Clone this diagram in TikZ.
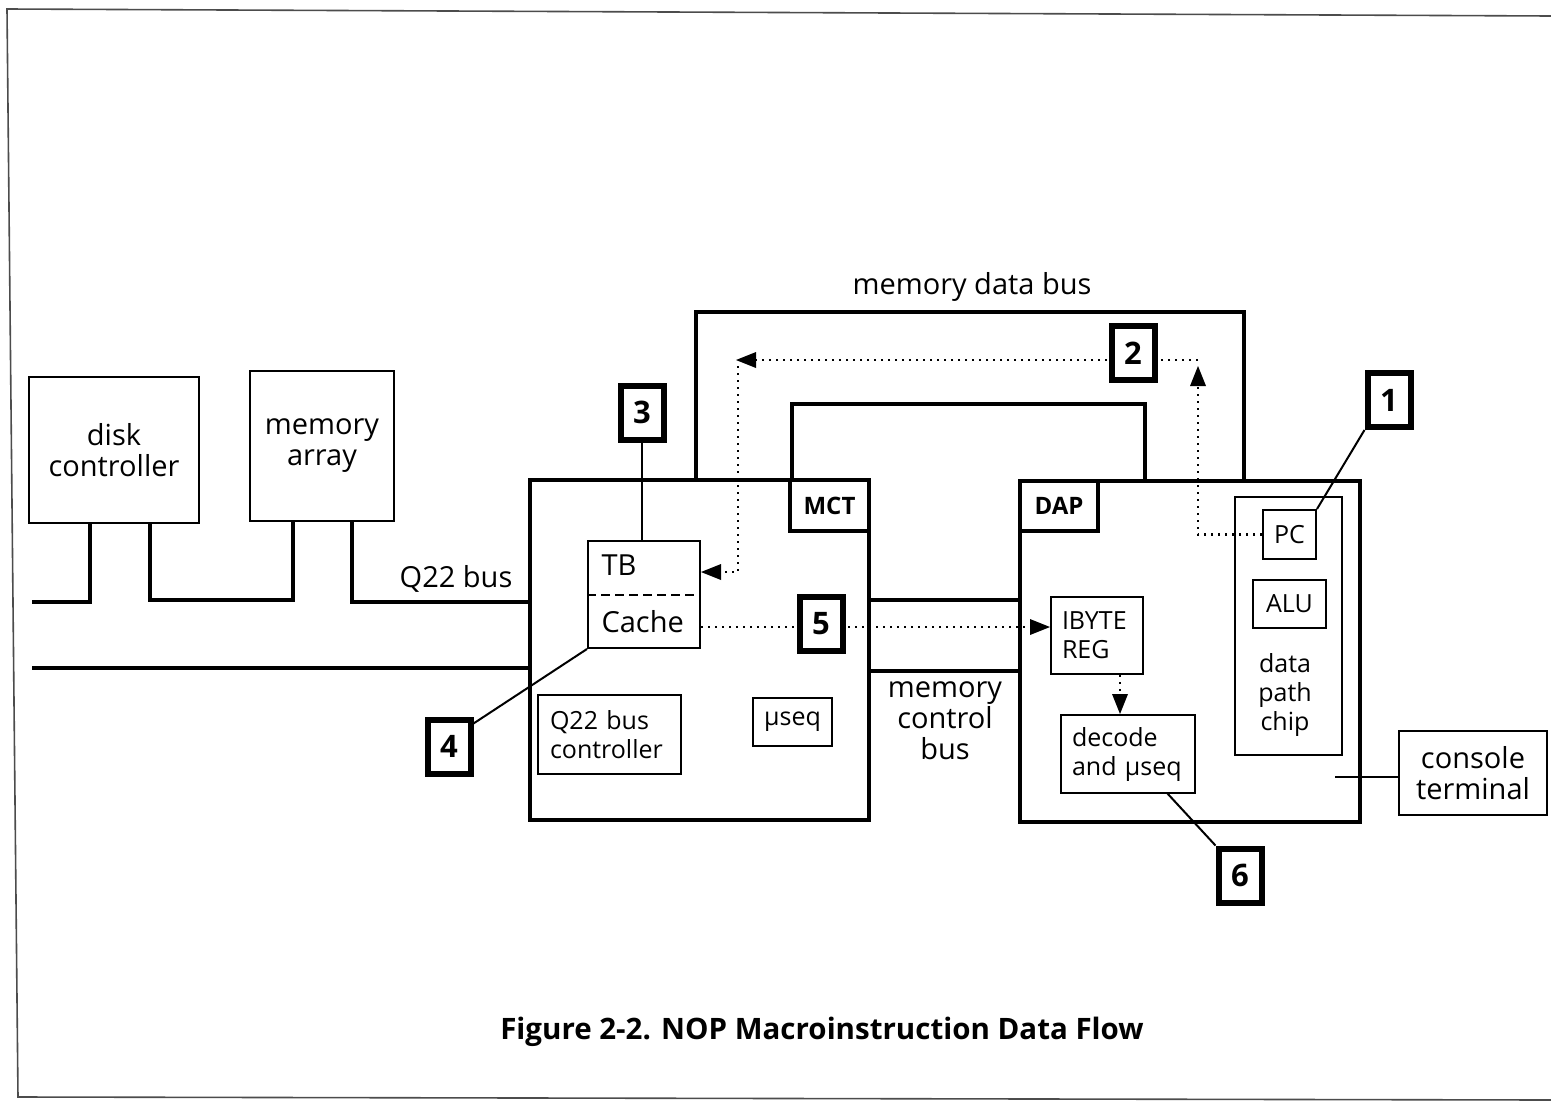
\documentclass[tikz,border=0pt]{standalone}
\usepackage{fontspec}
\setmainfont{Open Sans}
\usetikzlibrary{arrows.meta,calc}
\begin{document}
\begin{tikzpicture}[x=1pt,y=-1pt,
 lbl/.style={font=\fontsize{29}{31}\selectfont},
 sml/.style={font=\fontsize{25}{29}\selectfont},
 box/.style={draw, line width=2pt, inner sep=0pt, align=center},
 bigbox/.style={draw, line width=4pt, inner sep=0pt},
 labbox/.style={draw, line width=4pt, inner sep=0pt, fill=white, font=\bfseries\fontsize{24}{28}\selectfont},
 numbox/.style={draw, line width=6pt, inner sep=0pt, minimum width=43pt, minimum height=54pt, fill=white, font=\bfseries\fontsize{31}{34}\selectfont},
 bus/.style={line width=4pt},
 thinline/.style={line width=2pt},
 dotline/.style={line width=2.4pt, dash pattern=on 2pt off 5pt},
 arr/.style={-{Triangle[length=20pt,width=16pt,line width=0pt]}},
 frameline/.style={line width=1.6pt, draw=black!70}
]
\useasboundingbox (0,0) rectangle (1551,1103);
\fill[white] (0,0) rectangle (1551,1103);
% frame
\draw[frameline] (1551,16) -- (7,9) -- (18,1097) -- (1551,1100);

% left boxes
\node[box, lbl, minimum width=170pt, minimum height=146pt] (disk) at (114,450) {disk\\controller};
\node[box, lbl, minimum width=144pt, minimum height=150pt] (mem) at (322,446) {memory\\array};

% main chips
\node[bigbox, minimum width=339pt, minimum height=340pt] (mct) at (699.5,650) {};
\node[bigbox, minimum width=340pt, minimum height=341pt] (dap) at (1190,651.5) {};

% Q22 bus
\coordinate (qa) at (32,602);
\coordinate (qb) at (90,602);
\coordinate (qc) at (150,600);
\coordinate (qd) at (293,600);
\coordinate (qe) at (352,602);
\coordinate (qf) at (32,668);
\draw[bus] (qa) -- (qb) -- (qb |- disk.south);
\draw[bus] (qc |- disk.south) -- (qc) -- (qd) -- (qd |- mem.south);
\draw[bus] (qe |- mem.south) -- (qe) -- (qe -| mct.west);
\draw[bus] (qf) -- (qf -| mct.west);
\node[lbl] (q22) at (456,579) {Q22 bus};

% memory data bus / memory control bus
\coordinate (mdbL) at (696,312);
\coordinate (mdbR) at (1244,312);
\draw[bus] (mdbL |- mct.north) -- (mdbL) -- (mdbR) -- (mdbR |- dap.north);
\coordinate (mcbL) at (792,404);
\coordinate (mcbR) at (1145,404);
\draw[bus] (mcbL |- mct.north) -- (mcbL) -- (mcbR) -- (mcbR |- dap.north);
\node[lbl] (mdb) at (972,287) {memory data bus};
\coordinate (hb1) at (869,600);
\coordinate (hb2) at (869,671);
\draw[bus] (hb1) -- (hb1 -| dap.west);
\draw[bus] (hb2) -- (hb2 -| dap.west);
\node[lbl, align=center, font=\fontsize{29}{31}\selectfont] (mcb) at (945,721) {memory\\control\\bus};

% label boxes
\node[labbox, minimum width=79pt, minimum height=51pt] (mctl) at (829.5,505.5) {MCT};
\node[labbox, minimum width=78pt, minimum height=50pt] (dapl) at (1059,506) {DAP};

% MCT inner
\node[box, minimum width=112pt, minimum height=107pt] (tbc) at (644,594.5) {};
\draw[thinline, dash pattern=on 9pt off 5pt] (tbc.west) -- (tbc.east);
\node[lbl, anchor=west] (tbt) at (598,565) {TB};
\node[lbl, anchor=west] (cat) at (598,622) {Cache};
\node[box, sml, align=left, text width=119pt, inner xsep=12pt, minimum height=79pt] (qctl) at (609.5,734.5) {Q22 bus\\controller};
\node[box, sml, minimum width=79pt, minimum height=48pt] (useq) at (792.5,722) {µseq};

% DAP inner
\node[box, sml, align=left, text width=70pt, inner xsep=11pt, minimum height=77pt] (ibyte) at (1097,635.5) {IBYTE\\REG};
\node[box, sml, align=left, text width=112pt, inner xsep=11pt, minimum height=78pt] (decode) at (1128,754) {decode\\and µseq};
\node[box, minimum width=107pt, minimum height=258pt] (dpc) at (1288.5,626) {};
\node[box, sml, minimum width=53pt, minimum height=49pt] (pc) at (1289.5,534.5) {PC};
\node[box, sml, minimum width=73pt, minimum height=48pt] (alu) at (1289.5,604) {ALU};
\node[sml, align=center] (dpt) at (1285,695) {data\\path\\chip};

% console
\node[box, lbl, minimum width=148pt, minimum height=84pt] (console) at (1473,773) {console\\terminal};
\coordinate (cons) at (1335,777);
\draw[thinline] (cons) -- (cons -| console.west);

% dotted data flow
\coordinate (aup) at (1198,366);
\draw[dotline, arr] (pc.west) -| (aup);
\coordinate (d2R) at (1198,360);
\coordinate (d2L) at (736,360);
\draw[dotline, arr] (d2R) -- (d2L);
\coordinate (dv) at (738,366);
\draw[dotline, arr] (dv) |- ([yshift=22.5pt]tbc.east);
\coordinate (cr) at ([yshift=-32.5pt]tbc.east);
\draw[dotline, arr] (cr) -- (cr -| ibyte.west);
\coordinate (ib) at (1120,0);
\draw[dotline, arr] (ibyte.south -| ib) -- (decode.north -| ib);

% number boxes
\node[numbox] (n1) at (1389,400) {1};
\node[numbox] (n2) at (1133,353) {2};
\node[numbox] (n3) at (642,412.5) {3};
\node[numbox] (n4) at (449,746.5) {4};
\node[numbox] (n5) at (821,623.5) {5};
\node[numbox] (n6) at (1240,875.5) {6};
\draw[thinline] (n1.south west) -- (pc.north east);
\draw[thinline] (n3.south) -- (tbc.north -| n3.south);
\draw[thinline] ([yshift=-7pt]n4.north east) -- (tbc.south west);
\coordinate (ds) at (1167,793);
\draw[thinline] (ds) -- (n6.north west);

% caption
\node[font=\bfseries\fontsize{29.5}{33}\selectfont] (cap) at (822,1032) {Figure 2-2. NOP Macroinstruction Data Flow};
\end{tikzpicture}
\end{document}
